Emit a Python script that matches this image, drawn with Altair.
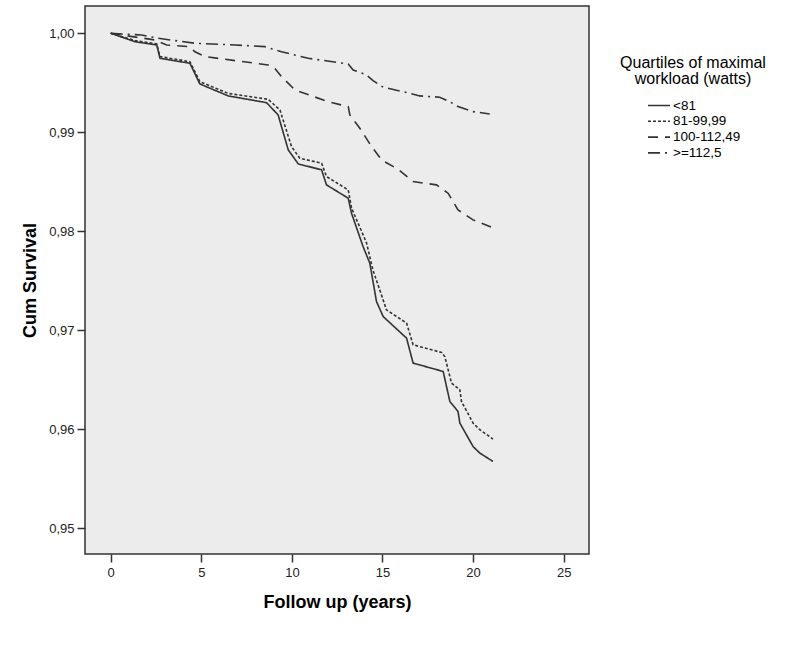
import altair as alt
import pandas as pd

groups = ["<81", "81-99,99", "100-112,49", ">=112,5"]

yrs_q1 = [0, 1.34, 2.54, 2.72, 4.37, 4.92, 6.49, 8.60, 9.24, 9.80, 10.35, 11.64, 11.91, 13.11, 13.29,
          13.93, 14.30, 14.67, 15.04, 16.33, 16.69, 18.35, 18.72, 19.17, 19.27, 20.00, 20.37, 21.10]
surv_q1 = [1.0, 0.99915, 0.99882, 0.99747, 0.99697, 0.99488, 0.99367, 0.99299, 0.99175, 0.98821, 0.98680,
           0.98620, 0.98468, 0.98333, 0.98182, 0.97844, 0.97677, 0.97289, 0.97137, 0.96919, 0.96667,
           0.96582, 0.96279, 0.96178, 0.96061, 0.95824, 0.95758, 0.95673]

yrs_q2 = [0, 1.34, 2.54, 2.72, 4.37, 4.92, 6.49, 8.69, 9.34, 9.98, 10.44, 11.64, 11.91, 13.11, 13.29,
          14.12, 14.47, 14.85, 15.22, 16.33, 16.69, 18.26, 18.44, 18.81, 19.27, 19.36, 20.00, 20.37, 21.10]
surv_q2 = [1.0, 0.99927, 0.99892, 0.99764, 0.99713, 0.99511, 0.99392, 0.99333, 0.99225, 0.98855, 0.98737,
           0.98687, 0.98552, 0.98417, 0.98235, 0.97882, 0.97609, 0.97407, 0.97205, 0.97071, 0.96852,
           0.96774, 0.96733, 0.96465, 0.96397, 0.96279, 0.96061, 0.95994, 0.95899]

yrs_q3 = [0, 2.44, 3.09, 4.28, 4.65, 5.20, 8.69, 9.06, 9.43, 10.17, 12.00, 13.11, 13.20, 13.75, 14.40,
          14.95, 15.86, 16.69, 17.98, 18.62, 19.17, 20.00, 21.02]
surv_q3 = [1.0, 0.99932, 0.99882, 0.99865, 0.99814, 0.99764, 0.99680, 0.99646, 0.99562, 0.99427, 0.99309,
           0.99259, 0.99175, 0.99040, 0.98855, 0.98720, 0.98626, 0.98501, 0.98468, 0.98384, 0.98215,
           0.98114, 0.98040]

yrs_q4 = [0, 1.71, 2.63, 4.65, 6.86, 8.51, 9.43, 10.90, 13.11, 13.38, 14.12, 14.48, 15.04, 16.51, 17.06,
          18.16, 18.72, 19.17, 20.00, 20.92]
surv_q4 = [1.0, 0.99983, 0.99949, 0.99899, 0.99882, 0.99865, 0.99814, 0.99747, 0.99690, 0.99629, 0.99579,
           0.99521, 0.99455, 0.99394, 0.99367, 0.99354, 0.99309, 0.99259, 0.99208, 0.99185]

y_ticks = [0.95, 0.96, 0.97, 0.98, 0.99, 1.00]
x_ticks = [0, 5, 10, 15, 20, 25]

rows = []
for g, xs, ys in zip(groups, [yrs_q1, yrs_q2, yrs_q3, yrs_q4], [surv_q1, surv_q2, surv_q3, surv_q4]):
    for i, (x, y) in enumerate(zip(xs, ys)):
        rows.append({"group": g, "year": x, "surv": y, "order": i})
df = pd.DataFrame(rows)

FONT = "Liberation Sans"

chart = alt.Chart(df).mark_line(strokeWidth=1.6, color="#333333").encode(
    x=alt.X("year:Q",
            scale=alt.Scale(domain=[-1.42, 26.4], nice=False, zero=False),
            axis=alt.Axis(values=x_ticks, title="Follow up (years)", grid=False, domain=False,
                          tickSize=8, tickColor="#333333", tickWidth=1.5,
                          labelFont=FONT, labelFontSize=13, labelColor="#222222", labelPadding=4,
                          titleFont=FONT, titleFontSize=18, titleFontWeight="bold",
                          titleColor="#000000", titlePadding=14)),
    y=alt.Y("surv:Q",
            scale=alt.Scale(domain=[0.947374, 1.002758], nice=False, zero=False),
            axis=alt.Axis(values=y_ticks, title="Cum Survival", grid=False, domain=False,
                          tickSize=8, tickColor="#333333", tickWidth=1.5,
                          labelExpr="replace(format(datum.value, '.2f'), '.', ',')",
                          labelFont=FONT, labelFontSize=13, labelColor="#222222", labelPadding=3,
                          titleFont=FONT, titleFontSize=18, titleFontWeight="bold",
                          titleColor="#000000", titlePadding=9)),
    strokeDash=alt.StrokeDash("group:N",
                              scale=alt.Scale(domain=groups,
                                              range=[[1, 0], [3, 2], [10, 7], [12, 5, 2, 5]]),
                              legend=alt.Legend(
                                  title=["Quartiles of maximal", "workload (watts)"],
                                  orient="none", legendX=535, legendY=49, padding=0,
                                  titleFont=FONT, titleFontSize=16, titleFontWeight="normal",
                                  titleColor="#000000", titleAnchor="middle", titleAlign="center",
                                  titleLineHeight=15.5, titlePadding=12,
                                  labelFont=FONT, labelFontSize=13.5, labelColor="#000000",
                                  symbolType="stroke", symbolSize=484, symbolStrokeWidth=1.6,
                                  symbolStrokeColor="#333333", symbolOffset=1,
                                  clipHeight=14, rowPadding=1.8, labelOffset=2)),
    order="order:Q",
).properties(
    width=504, height=548,
    padding={"left": 85, "top": 6, "right": 197, "bottom": 107},
    autosize=alt.AutoSizeParams(type="none"),
    background="#ffffff",
).configure_view(
    fill="#ececec", stroke="#333333", strokeWidth=1.5
)

chart.save("out.html", embed_options={"renderer": "svg", "actions": False})
